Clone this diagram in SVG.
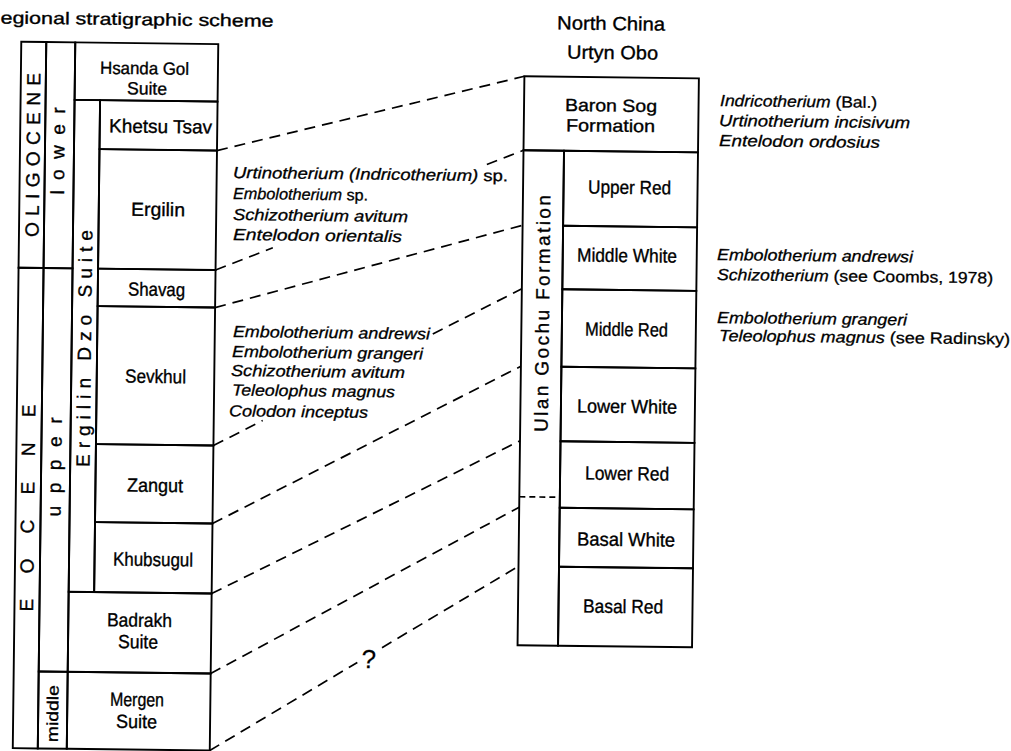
<svg xmlns="http://www.w3.org/2000/svg" width="1011" height="751" viewBox="0 0 1011 751">
<style>
.box{fill:none;stroke:#000;stroke-width:1.9}
.lbl{font-family:"Liberation Sans",Arial,sans-serif;font-size:19px;fill:#000;stroke:#000;stroke-width:0.35;text-anchor:middle}
.two{font-size:17.5px}
.vl{font-family:"Liberation Sans",Arial,sans-serif;font-size:19px;fill:#000;stroke:#000;stroke-width:0.35;text-anchor:middle}
.tax{font-family:"Liberation Sans",Arial,sans-serif;font-size:16px;font-style:italic;fill:#000;stroke:#000;stroke-width:0.3}
.up{font-style:normal}
.conn{fill:none;stroke:#000;stroke-width:1.7;stroke-dasharray:11 7}
.dsh{fill:none;stroke:#000;stroke-width:1.7;stroke-dasharray:6 4}
</style>
<rect x="0" y="0" width="1011" height="751" fill="#fff"/>
<g transform="rotate(0.69 500 400)">
<g id="title"><text class="lbl" style="text-anchor:start;font-size:17px" x="-4" y="29.5" textLength="273" lengthAdjust="spacingAndGlyphs">egional stratigraphic scheme</text></g>
<g id="col-oligocene"><rect class="box" x="17" y="47.5" width="25" height="226"/><text class="vl" transform="translate(29.6 160.6) rotate(-90)" x="0" y="7" textLength="164" lengthAdjust="spacing">OLIGOCENE</text></g>
<g id="col-eocene"><rect class="box" x="17" y="273.5" width="25" height="480.5"/><text class="vl" transform="translate(28.5 513.7) rotate(-90)" x="0" y="7" textLength="207" lengthAdjust="spacing">EOCENE</text></g>
<g id="col-lower"><rect class="box" x="42" y="47.5" width="29" height="226"/><text class="vl" transform="translate(56 156.3) rotate(-90)" x="0" y="5.5" textLength="87" lengthAdjust="spacing">lower</text></g>
<g id="col-upper"><rect class="box" x="42" y="273.5" width="29" height="403.5"/><text class="vl" transform="translate(57 472.3) rotate(-90)" x="0" y="5" textLength="99" lengthAdjust="spacing">upper</text></g>
<g id="col-middle"><rect class="box" x="42" y="677" width="29" height="77"/><text class="vl" style="font-size:16px" transform="translate(56 719) rotate(-90)" x="0" y="6" textLength="57" lengthAdjust="spacingAndGlyphs">middle</text></g>
<g id="hsanda-gol"><rect class="box" x="71" y="47.5" width="143" height="57.5"/><text class="lbl two" x="140.6" y="78.6" textLength="89" lengthAdjust="spacingAndGlyphs">Hsanda Gol</text><text class="lbl two" x="143.3" y="98.8" textLength="40" lengthAdjust="spacingAndGlyphs">Suite</text></g>
<g id="ergilin-dzo-suite"><rect class="box" x="71" y="105" width="25.5" height="492"/><text class="vl" transform="translate(83.4 353.5) rotate(-90)" x="0" y="7" textLength="237" lengthAdjust="spacing">Ergilin Dzo Suite</text></g>
<g id="khetsu-tsav"><rect class="box" x="96.5" y="105" width="117.5" height="49"/><text class="lbl" x="157.3" y="137.1" textLength="103" lengthAdjust="spacingAndGlyphs">Khetsu Tsav</text></g>
<g id="ergilin"><rect class="box" x="96.5" y="154" width="117.5" height="119.5"/><text class="lbl" x="155.8" y="220.1" textLength="54" lengthAdjust="spacingAndGlyphs">Ergilin</text></g>
<g id="shavag"><rect class="box" x="96.5" y="273.5" width="117.5" height="37.5"/><text class="lbl" x="155.3" y="300.1" textLength="57" lengthAdjust="spacingAndGlyphs">Shavag</text></g>
<g id="sevkhul"><rect class="box" x="96.5" y="311" width="117.5" height="138"/><text class="lbl" x="155.3" y="387.1" textLength="61" lengthAdjust="spacingAndGlyphs">Sevkhul</text></g>
<g id="zangut"><rect class="box" x="96.5" y="449" width="117.5" height="78"/><text class="lbl" x="156.1" y="496.1" textLength="56" lengthAdjust="spacingAndGlyphs">Zangut</text></g>
<g id="khubsugul"><rect class="box" x="96.5" y="527" width="117.5" height="70"/><text class="lbl" x="155" y="570.2" textLength="80" lengthAdjust="spacingAndGlyphs">Khubsugul</text></g>
<g id="badrakh"><rect class="box" x="71" y="597" width="143" height="80"/><text class="lbl" x="142.2" y="631" textLength="65" lengthAdjust="spacingAndGlyphs">Badrakh</text><text class="lbl" x="141" y="652.6" textLength="40" lengthAdjust="spacingAndGlyphs">Suite</text></g>
<g id="mergen"><rect class="box" x="71" y="677" width="143" height="77"/><text class="lbl" x="140.7" y="710.4" textLength="54" lengthAdjust="spacingAndGlyphs">Mergen</text><text class="lbl" x="140.4" y="732.4" textLength="41" lengthAdjust="spacingAndGlyphs">Suite</text></g>
<g id="fauna-ergilin" class="tax">
<text x="230.3" y="181.2" textLength="275" lengthAdjust="spacingAndGlyphs">Urtinotherium (Indricotherium)<tspan class="up"> sp.</tspan></text>
<text x="230.6" y="202.2" textLength="135" lengthAdjust="spacingAndGlyphs">Embolotherium<tspan class="up"> sp.</tspan></text>
<text x="230.8" y="223.2" textLength="175" lengthAdjust="spacingAndGlyphs">Schizotherium avitum</text>
<text x="231.1" y="243.2" textLength="169" lengthAdjust="spacingAndGlyphs">Entelodon orientalis</text>
</g>
<g id="fauna-sevkhul" class="tax">
<text x="232.2" y="340.2" textLength="197" lengthAdjust="spacingAndGlyphs">Embolotherium andrewsi</text>
<text x="231.5" y="360.2" textLength="191" lengthAdjust="spacingAndGlyphs">Embolotherium grangeri</text>
<text x="230.7" y="379.2" textLength="174" lengthAdjust="spacingAndGlyphs">Schizotherium avitum</text>
<text x="231.9" y="398.7" textLength="163" lengthAdjust="spacingAndGlyphs">Teleolophus magnus</text>
<text x="229.2" y="419.5" textLength="139" lengthAdjust="spacingAndGlyphs">Colodon inceptus</text>
</g>
<g id="north-china-head"><text class="lbl" x="606.6" y="28.7" textLength="108" lengthAdjust="spacingAndGlyphs">North China</text><text class="lbl" x="608.4" y="57.7" textLength="91" lengthAdjust="spacingAndGlyphs">Urtyn Obo</text></g>
<g id="baron-sog"><rect class="box" x="520.5" y="76" width="174.5" height="74"/><text class="lbl two" x="607.5" y="110.2" textLength="92" lengthAdjust="spacingAndGlyphs">Baron Sog</text><text class="lbl two" x="607.3" y="130.4" textLength="89" lengthAdjust="spacingAndGlyphs">Formation</text></g>
<g id="ulan-gochu"><rect class="box" x="520.5" y="150" width="40.5" height="495"/><line class="dsh" x1="520.5" y1="496.5" x2="561" y2="496.5"/><text class="vl" transform="translate(541 313) rotate(-90)" x="0" y="7" textLength="237" lengthAdjust="spacing">Ulan Gochu Formation</text></g>
<g id="upper-red"><rect class="box" x="561" y="150" width="134" height="75"/><text class="lbl" x="627" y="192.4" textLength="83" lengthAdjust="spacingAndGlyphs">Upper Red</text></g>
<g id="middle-white"><rect class="box" x="561" y="225" width="134" height="63.5"/><text class="lbl" x="625.3" y="260.5" textLength="100" lengthAdjust="spacingAndGlyphs">Middle White</text></g>
<g id="middle-red"><rect class="box" x="561" y="288.5" width="134" height="77.5"/><text class="lbl" x="625.7" y="334.5" textLength="83" lengthAdjust="spacingAndGlyphs">Middle Red</text></g>
<g id="lower-white"><rect class="box" x="561" y="366" width="134" height="74.5"/><text class="lbl" x="627.2" y="411.5" textLength="100" lengthAdjust="spacingAndGlyphs">Lower White</text></g>
<g id="lower-red"><rect class="box" x="561" y="440.5" width="134" height="66.5"/><text class="lbl" x="628" y="478.5" textLength="84" lengthAdjust="spacingAndGlyphs">Lower Red</text></g>
<g id="basal-white"><rect class="box" x="561" y="507" width="134" height="59"/><text class="lbl" x="627.8" y="544.5" textLength="98" lengthAdjust="spacingAndGlyphs">Basal White</text></g>
<g id="basal-red"><rect class="box" x="561" y="566" width="134" height="79"/><text class="lbl" x="625.6" y="611.5" textLength="80" lengthAdjust="spacingAndGlyphs">Basal Red</text></g>
<g id="fauna-baron-sog" class="tax">
<text x="716.5" y="103.4" textLength="157" lengthAdjust="spacingAndGlyphs">Indricotherium<tspan class="up"> (Bal.)</tspan></text>
<text x="715.7" y="123.4" textLength="191" lengthAdjust="spacingAndGlyphs">Urtinotherium incisivum</text>
<text x="715.9" y="143.4" textLength="161" lengthAdjust="spacingAndGlyphs">Entelodon ordosius</text>
</g>
<g id="fauna-middle-white" class="tax">
<text x="715.3" y="257.4" textLength="196" lengthAdjust="spacingAndGlyphs">Embolotherium andrewsi</text>
<text x="715.6" y="277.4" textLength="276" lengthAdjust="spacingAndGlyphs">Schizotherium<tspan class="up"> (see Coombs, 1978)</tspan></text>
</g>
<g id="fauna-middle-red" class="tax">
<text x="716.1" y="320.4" textLength="190" lengthAdjust="spacingAndGlyphs">Embolotherium grangeri</text>
<text x="718.3" y="338.4" textLength="291" lengthAdjust="spacingAndGlyphs">Teleolophus magnus<tspan class="up"> (see Radinsky)</tspan></text>
</g>
<g id="connectors">
<path class="conn" d="M214,154 L520.5,76"/>
<path class="conn" d="M214,273.5 L271,250.5 M484,164.6 L520.5,150"/>
<path class="conn" d="M214,311 L520.5,225"/>
<path class="conn" d="M214,449 L263,423.3 M432,334.8 L520.5,288.5"/>
<path class="conn" d="M214,527 L520.5,366"/>
<path class="conn" d="M214,597 L520.5,440.5"/>
<path class="conn" d="M214,677 L520.5,507"/>
<path class="conn" d="M214,754 L360.5,664.1 M385,649.1 L520.5,566"/>
<text class="lbl" style="font-size:26px;stroke-width:0.2" x="372" y="669.6">?</text>
</g>
</g>
</svg>
